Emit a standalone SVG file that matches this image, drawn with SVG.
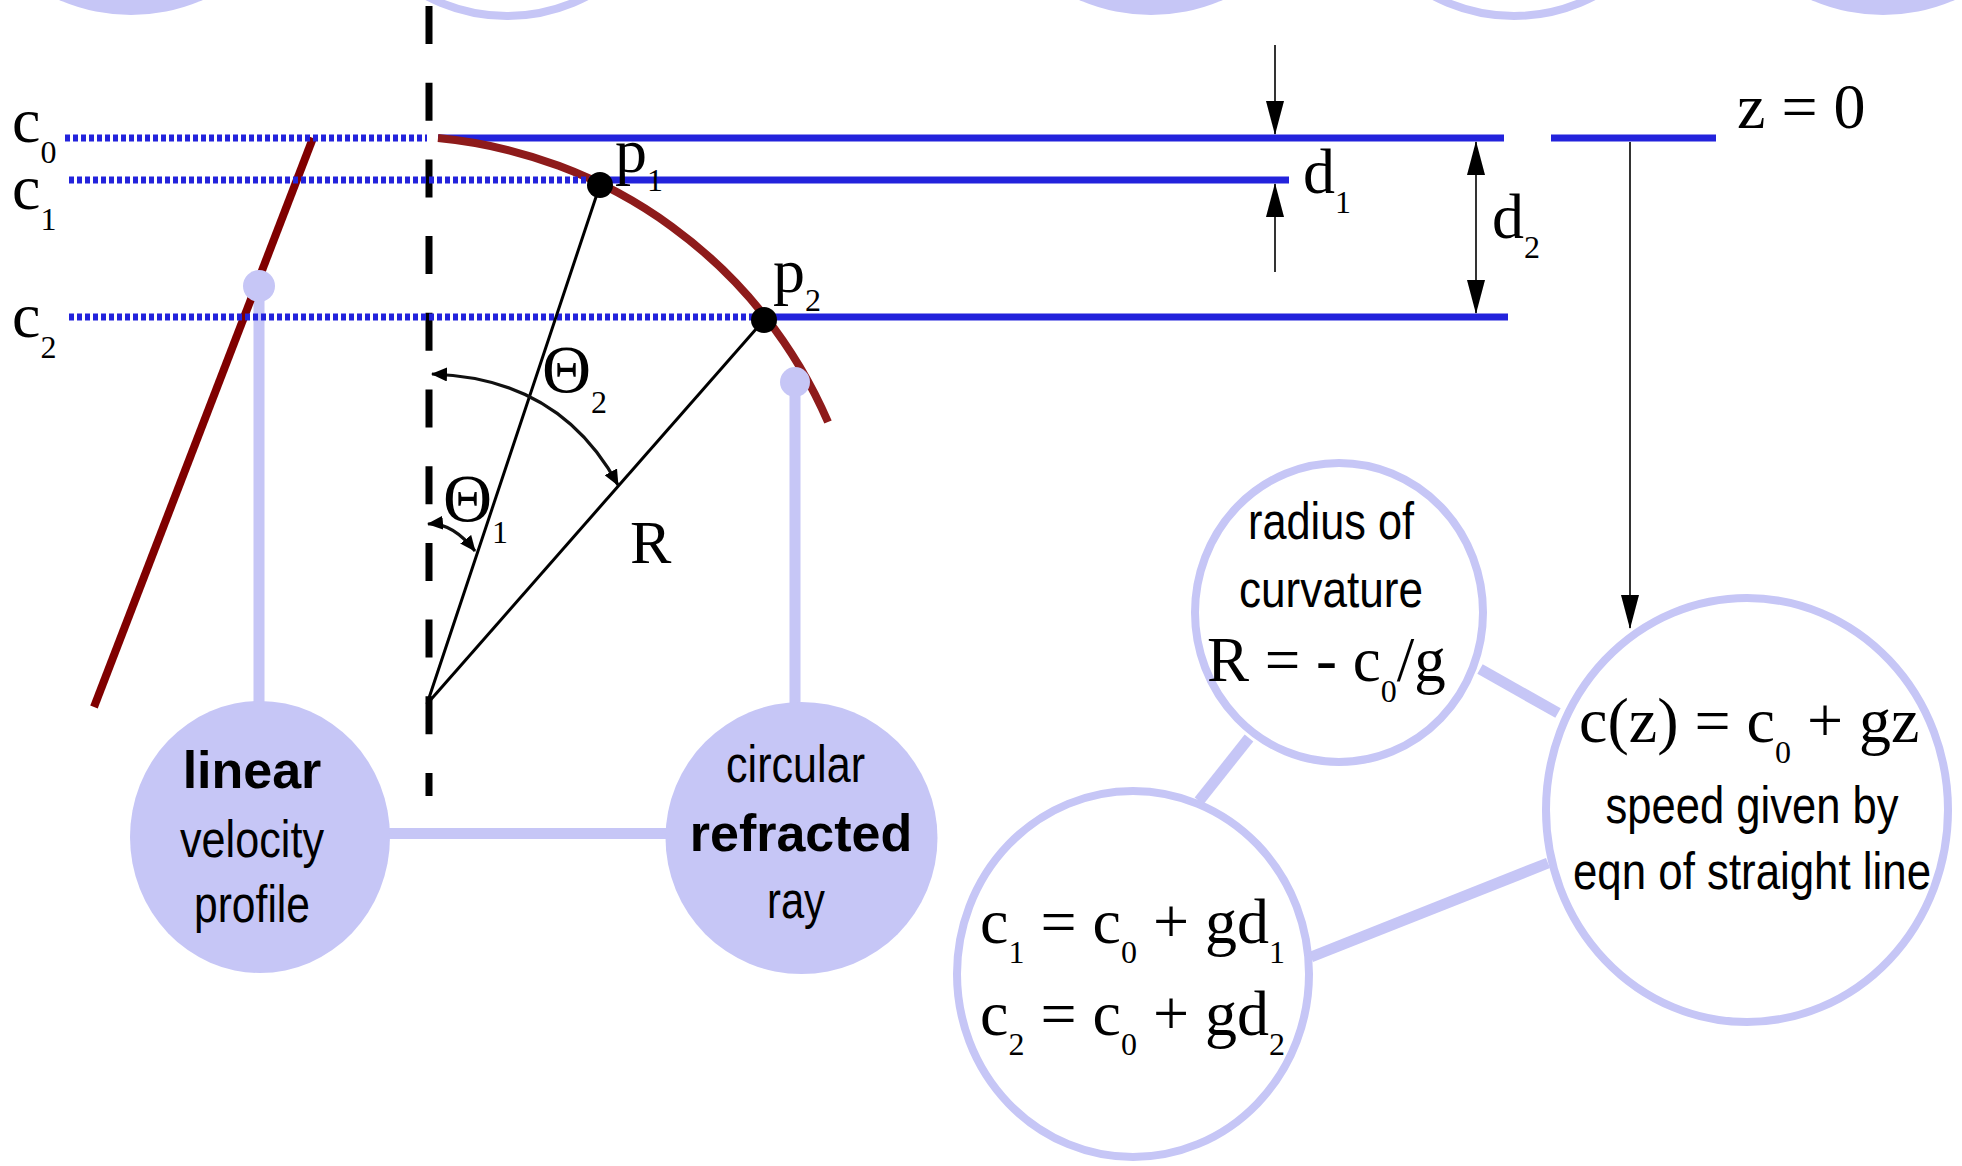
<svg xmlns="http://www.w3.org/2000/svg" width="1962" height="1166" viewBox="0 0 1962 1166">
<style>
.lav{fill:#C6C6F6}
.ring{fill:#FFFFFF;stroke:#C6C6F6;stroke-width:8}
.link{stroke:#C6C6F6;stroke-width:11;fill:none}
.blue{stroke:#2323DC;stroke-width:7;fill:none}
.dot{stroke:#2323DC;stroke-width:7;fill:none;stroke-dasharray:5 3}
.thin{stroke:#000;stroke-width:1.6;fill:none}
.rad{stroke:#000;stroke-width:3;fill:none}
.ang{stroke:#111;stroke-width:3.2;fill:none}
.m{font-family:'Liberation Serif','Times New Roman',serif;font-size:64px;fill:#000}
.s{font-size:32px}
.th{font-size:68px}
.n{font-family:'Liberation Sans',Arial,sans-serif;font-size:52px;fill:#000;text-anchor:middle}
.b{font-weight:bold}
</style>
<defs>
<marker id="ah" markerUnits="userSpaceOnUse" viewBox="0 0 34 18" markerWidth="34" markerHeight="18" refX="33" refY="9" orient="auto-start-reverse"><path d="M0,0 L34,9 L0,18 z" fill="#000"/></marker>
<marker id="sh" markerUnits="userSpaceOnUse" viewBox="0 0 16 14" markerWidth="16" markerHeight="14" refX="15" refY="7" orient="auto-start-reverse"><path d="M0,0 L16,7 L0,14 z" fill="#000"/></marker>
</defs>

<g id="cutoff-shapes">
<circle class="lav" cx="131" cy="-165" r="180"/>
<ellipse class="ring" cx="507" cy="-173" rx="180" ry="189"/>
<circle class="lav" cx="1151" cy="-165" r="180"/>
<ellipse class="ring" cx="1514" cy="-173" rx="180" ry="189"/>
<circle class="lav" cx="1883" cy="-165" r="180"/>
</g>

<g id="connectors">
<line class="link" x1="259" y1="286" x2="259" y2="706"/>
<line class="link" x1="795" y1="382" x2="795" y2="706"/>
<line class="link" x1="388" y1="833.5" x2="668" y2="833.5"/>
<line class="link" x1="1249" y1="738" x2="1199" y2="801"/>
<line class="link" x1="1480" y1="669" x2="1558" y2="713"/>
<line class="link" x1="1311" y1="957" x2="1548" y2="863"/>
<line class="thin" x1="1630" y1="142" x2="1630" y2="628" marker-end="url(#ah)"/>
</g>

<g id="figure">
<line x1="429" y1="6" x2="429" y2="796" stroke="#000" stroke-width="7" stroke-dasharray="38 38.7"/>
<line class="blue" x1="438" y1="138" x2="1504" y2="138"/>
<line class="blue" x1="1551" y1="138" x2="1716" y2="138"/>
<line class="blue" x1="600" y1="180" x2="1289" y2="180"/>
<line class="blue" x1="764" y1="317" x2="1508" y2="317"/>
<line x1="313" y1="138" x2="94" y2="707" stroke="#800000" stroke-width="8"/>
<path d="M438,138 A474,474 0 0 1 828,422" stroke="#8E1B1B" stroke-width="8" fill="none"/>
<line class="dot" x1="65" y1="138" x2="427" y2="138"/>
<line class="dot" x1="69" y1="180" x2="600" y2="180"/>
<line class="dot" x1="69" y1="317" x2="764" y2="317"/>
<line class="rad" x1="427" y1="704" x2="600" y2="185"/>
<line class="rad" x1="427" y1="704" x2="764" y2="320"/>
<circle cx="600" cy="185" r="13" fill="#000"/>
<circle cx="764" cy="320" r="13" fill="#000"/>
<circle class="lav" cx="259" cy="286" r="16"/>
<circle class="lav" cx="795" cy="382" r="15"/>
<path class="ang" d="M432,374 Q560,378 618,485" marker-start="url(#sh)" marker-end="url(#sh)"/>
<path class="ang" d="M428,524 Q452,522 475,551" marker-start="url(#sh)" marker-end="url(#sh)"/>
<line class="thin" x1="1275" y1="45" x2="1275" y2="134" marker-end="url(#ah)"/>
<line class="thin" x1="1275" y1="272" x2="1275" y2="184" marker-end="url(#ah)"/>
<line class="thin" x1="1476" y1="142" x2="1476" y2="313" marker-start="url(#ah)" marker-end="url(#ah)"/>
<text class="m" x="12" y="142">c<tspan class="s" dy="21">0</tspan></text>
<text class="m" x="12" y="209">c<tspan class="s" dy="21">1</tspan></text>
<text class="m" x="12" y="337">c<tspan class="s" dy="21">2</tspan></text>
<text class="m" x="615" y="172">p<tspan class="s" dy="19">1</tspan></text>
<text class="m" x="773" y="292">p<tspan class="s" dy="19">2</tspan></text>
<text class="m" x="1303" y="193">d<tspan class="s" dy="20">1</tspan></text>
<text class="m" x="1492" y="238">d<tspan class="s" dy="20">2</tspan></text>
<text class="m" x="1737" y="128">z = 0</text>
<text class="m th" x="542" y="392">Θ<tspan class="s" dy="21">2</tspan></text>
<text class="m th" x="443" y="521">Θ<tspan class="s" dy="22">1</tspan></text>
<text class="m" style="font-size:62px" x="630" y="563">R</text>
</g>

<g id="node-linear">
<ellipse class="lav" cx="260" cy="837" rx="130" ry="136"/>
<text class="n b" x="252" y="788">linear</text>
<text class="n" x="252" y="857" textLength="144" lengthAdjust="spacingAndGlyphs">velocity</text>
<text class="n" x="252" y="922" textLength="116" lengthAdjust="spacingAndGlyphs">profile</text>
</g>

<g id="node-circular">
<circle class="lav" cx="801.5" cy="838" r="136"/>
<text class="n" x="795.5" y="782" textLength="139" lengthAdjust="spacingAndGlyphs">circular</text>
<text class="n b" x="801" y="851">refracted</text>
<text class="n" x="796" y="918" textLength="58" lengthAdjust="spacingAndGlyphs">ray</text>
</g>

<g id="node-radius">
<ellipse class="ring" cx="1339" cy="612.5" rx="144" ry="149.5"/>
<text class="n" x="1331" y="539" textLength="166" lengthAdjust="spacingAndGlyphs">radius of</text>
<text class="n" x="1331" y="607" textLength="184" lengthAdjust="spacingAndGlyphs">curvature</text>
<text class="m" x="1207" y="681" style="font-size:63px">R = - c<tspan class="s" dy="21">0</tspan><tspan dy="-21">/g</tspan></text>
</g>

<g id="node-cz">
<ellipse class="ring" cx="1747" cy="810" rx="201" ry="212"/>
<text class="m" x="1579" y="742">c(z) = c<tspan class="s" dy="21">0</tspan><tspan dy="-21"> + gz</tspan></text>
<text class="n" x="1752" y="823" textLength="293" lengthAdjust="spacingAndGlyphs">speed given by</text>
<text class="n" x="1752" y="889" textLength="358" lengthAdjust="spacingAndGlyphs">eqn of straight line</text>
</g>

<g id="node-c1c2">
<ellipse class="ring" cx="1133" cy="974" rx="176" ry="183"/>
<text class="m" x="980" y="943">c<tspan class="s" dy="20">1</tspan><tspan dy="-20"> = c</tspan><tspan class="s" dy="20">0</tspan><tspan dy="-20"> + gd</tspan><tspan class="s" dy="20">1</tspan></text>
<text class="m" x="980" y="1035">c<tspan class="s" dy="20">2</tspan><tspan dy="-20"> = c</tspan><tspan class="s" dy="20">0</tspan><tspan dy="-20"> + gd</tspan><tspan class="s" dy="20">2</tspan></text>
</g>
</svg>
